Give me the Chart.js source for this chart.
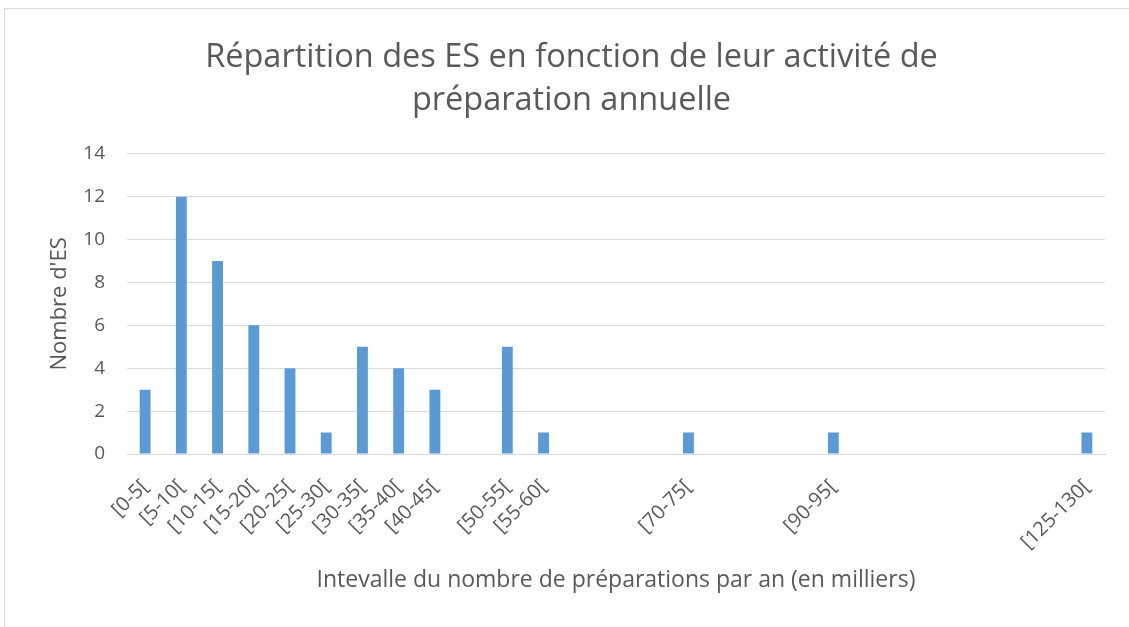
<!DOCTYPE html>
<html>
<head>
<meta charset="utf-8">
<script src="https://cdn.jsdelivr.net/npm/chart.js@4"></script>
<style>
  html, body { margin: 0; padding: 0; background: #fff; }
  #wrap { position: relative; width: 1129px; height: 627px; overflow: hidden; }
  #frame { position: absolute; left: 4px; top: 8px; width: 1140px; height: 640px; border: 1px solid #d9d9d9; box-sizing: border-box; }
  canvas { position: absolute; left: 0; top: 0; }
</style>
</head>
<body>
<div id="wrap">
  <div id="frame"></div>
  <canvas id="myChart" width="1129" height="627"></canvas>
</div>
<script>
const categories = ['[0-5[', '[5-10[', '[10-15[', '[15-20[', '[20-25[', '[25-30[', '[30-35[', '[35-40[', '[40-45[', '',
  '[50-55[', '[55-60[', '', '', '', '[70-75[', '', '', '', '[90-95[', '', '', '', '', '', '', '[125-130['];
const nbES = [3, 12, 9, 6, 4, 1, 5, 4, 3, null, 5, 1, null, null, null, 1, null, null, null, 1, null, null, null, null, null, null, 1];
const yTicks = [0, 2, 4, 6, 8, 10, 12, 14];

const font = '"Open Sans", Lato, sans-serif';
const grey = '#595959';

const ctx = document.getElementById('myChart');

new Chart(ctx, {
  type: 'bar',
  data: {
    labels: categories,
    datasets: [{
      label: "Nombre d'ES",
      data: nbES,
      backgroundColor: '#5B9BD5',
      categoryPercentage: 1,
      barPercentage: 0.3
    }]
  },
  options: {
    responsive: false,
    animation: false,
    layout: { padding: { left: 38, right: 24, top: 12, bottom: 26 } },
    plugins: {
      legend: { display: false },
      tooltip: { enabled: false },
      title: {
        display: true,
        text: ['Répartition des ES en fonction de leur activité de', 'préparation annuelle'],
        color: grey,
        font: { family: font, size: 32.5, weight: 'normal', lineHeight: 1.32 },
        padding: { top: 24.5, bottom: 31.5 }
      }
    },
    scales: {
      x: {
        grid: { display: false, drawTicks: false },
        border: { color: '#d9d9d9', width: 1 },
        ticks: {
          autoSkip: false,
          maxRotation: 45,
          minRotation: 45,
          color: grey,
          padding: 21,
          font: { family: font, size: 20 }
        },
        title: {
          display: true,
          text: 'Intevalle du nombre de préparations par an (en milliers)',
          color: grey,
          font: { family: font, size: 23 },
          padding: { top: 10, bottom: 7 }
        },
        afterFit: (scale) => { scale.height = 147; }
      },
      y: {
        min: 0,
        max: 14,
        afterBuildTicks: (scale) => { scale.ticks = yTicks.map(v => ({ value: v })); },
        grid: { color: '#d9d9d9', drawTicks: false },
        border: { display: false },
        ticks: {
          color: grey,
          padding: 22,
          font: { family: font, size: 19 }
        },
        title: {
          display: true,
          text: "Nombre d'ES",
          color: grey,
          font: { family: font, size: 22 },
          padding: { top: 9, bottom: 6 }
        },
        afterFit: (scale) => { scale.width = 89; }
      }
    }
  }
});
</script>
</body>
</html>
